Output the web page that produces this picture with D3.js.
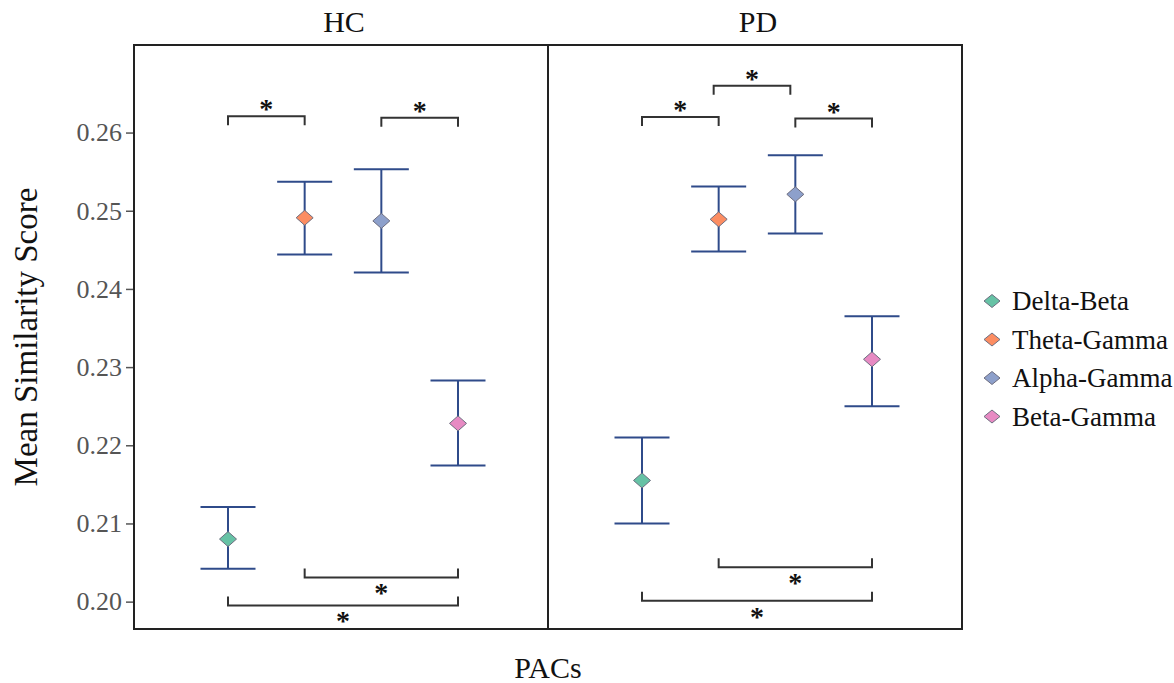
<!DOCTYPE html>
<html>
<head>
<meta charset="utf-8">
<script src="https://cdn.jsdelivr.net/npm/d3@7"></script>
<style>
  html, body { margin: 0; padding: 0; background: #fff; }
  svg { display: block; }
  text { font-family: "Liberation Serif", "Times New Roman", serif; }
</style>
</head>
<body>
<svg id="chart" width="1174" height="683"></svg>
<script>
// ---- data ----
const categories = ["Delta-Beta", "Theta-Gamma", "Alpha-Gamma", "Beta-Gamma"];
const groups = ["HC", "PD"];
const colors = ["#66c2a5", "#fc8d62", "#8da0cb", "#e78ac3"];

const hcMean  = [0.2080, 0.2491, 0.2487, 0.2228];
const hcLower = [0.2042, 0.2444, 0.2421, 0.2174];
const hcUpper = [0.2121, 0.2537, 0.2553, 0.2283];

const pdMean  = [0.2155, 0.2489, 0.2521, 0.2310];
const pdLower = [0.2100, 0.2448, 0.2471, 0.2250];
const pdUpper = [0.2210, 0.2531, 0.2571, 0.2365];

const yTicks = [0.20, 0.21, 0.22, 0.23, 0.24, 0.25, 0.26];
const yTickLabels = ["0.20", "0.21", "0.22", "0.23", "0.24", "0.25", "0.26"];

// significance brackets: [from, to, level, side]
const hcBrackets = [
  ["Delta-Beta", "Theta-Gamma", 0.2621, "top"],
  ["Alpha-Gamma", "Beta-Gamma", 0.2619, "top"],
  ["Theta-Gamma", "Beta-Gamma", 0.2031, "bottom"],
  ["Delta-Beta", "Beta-Gamma", 0.1995, "bottom"]
];
const pdBrackets = [
  ["Delta-Beta", "Theta-Gamma", 0.2620, "top"],
  ["Theta-Gamma", "Alpha-Gamma", 0.2660, "top"],
  ["Alpha-Gamma", "Beta-Gamma", 0.2618, "top"],
  ["Theta-Gamma", "Beta-Gamma", 0.2044, "bottom"],
  ["Delta-Beta", "Beta-Gamma", 0.2001, "bottom"]
];

const yTitle = "Mean Similarity Score";
const xTitle = "PACs";

// ---- layout ----
const svg = d3.select("#chart");
const plotL = 134, plotR = 962, plotT = 45, plotB = 629;
const panelW = (plotR - plotL) / 2;

const y = d3.scaleLinear().domain([0.1965, 0.2712]).range([plotB, plotT]);

const panels = [
  { name: groups[0], mean: hcMean, lower: hcLower, upper: hcUpper, brackets: hcBrackets },
  { name: groups[1], mean: pdMean, lower: pdLower, upper: pdUpper, brackets: pdBrackets }
];

const barColor = "#2f4b8a";
const capHalf = 27.5;

panels.forEach((p, i) => {
  const x0 = plotL + i * panelW;
  const x = d3.scalePoint().domain(categories).range([x0 + 2, x0 + panelW + 2]).padding(1.2);
  const g = svg.append("g");

  // panel title
  svg.append("text")
    .attr("x", x0 + panelW / 2 + 3)
    .attr("y", 32)
    .attr("text-anchor", "middle")
    .attr("font-size", 30)
    .attr("fill", "#111")
    .text(p.name);

  // error bars
  categories.forEach((c, k) => {
    const cx = x(c);
    g.append("line").attr("x1", cx).attr("x2", cx)
      .attr("y1", y(p.lower[k])).attr("y2", y(p.upper[k]))
      .attr("stroke", barColor).attr("stroke-width", 2);
    [p.lower[k], p.upper[k]].forEach(v => {
      g.append("line").attr("x1", cx - capHalf).attr("x2", cx + capHalf)
        .attr("y1", y(v)).attr("y2", y(v))
        .attr("stroke", barColor).attr("stroke-width", 2);
    });
    const cy = y(p.mean[k]);
    g.append("path")
      .attr("d", `M${cx},${cy - 7.5} L${cx + 8.5},${cy} L${cx},${cy + 7.5} L${cx - 8.5},${cy} Z`)
      .attr("fill", colors[k]).attr("stroke", "#6e6e80").attr("stroke-width", 1);
  });

  // brackets (the middle bracket between two others is drawn slightly to the left)
  p.brackets.forEach(b => {
    const nested = b[3] === "top" && b[2] > 0.264;
    const shift = nested ? -5 : 0;
    const xa = x(b[0]) + shift, xb = x(b[1]) + shift;
    const by = y(b[2]);
    const dir = b[3] === "top" ? 1 : -1;
    const tick = 9;
    g.append("path")
      .attr("d", `M${xa},${by + dir * tick} L${xa},${by} L${xb},${by} L${xb},${by + dir * tick}`)
      .attr("fill", "none").attr("stroke", "#333").attr("stroke-width", 2);
    const fs = 28;
    const centerY = b[3] === "top" ? by - 11 : by + 11.5;
    g.append("text")
      .attr("x", (xa + xb) / 2)
      .attr("y", centerY + 0.47 * fs)
      .attr("text-anchor", "middle")
      .attr("font-size", fs)
      .attr("font-weight", "bold")
      .attr("fill", "#111")
      .text("*");
  });
});

// y axis ticks
const yAxis = d3.axisLeft(y).tickValues(yTicks).tickSize(8).tickPadding(4)
  .tickFormat((d, i) => yTickLabels[i]);
const ya = svg.append("g").attr("transform", `translate(${plotL},0)`).call(yAxis);
ya.select(".domain").remove();
ya.selectAll(".tick line").attr("stroke", "#555").attr("stroke-width", 1.5);
ya.selectAll(".tick text")
  .attr("font-family", "'Liberation Serif', 'Times New Roman', serif")
  .attr("font-size", 26).attr("fill", "#555");

// frame
svg.append("rect")
  .attr("x", plotL).attr("y", plotT)
  .attr("width", plotR - plotL).attr("height", plotB - plotT)
  .attr("fill", "none").attr("stroke", "#222").attr("stroke-width", 2);
svg.append("line")
  .attr("x1", plotL + panelW).attr("x2", plotL + panelW)
  .attr("y1", plotT).attr("y2", plotB)
  .attr("stroke", "#222").attr("stroke-width", 2);

// axis titles
svg.append("text")
  .attr("transform", `translate(37, ${(plotT + plotB) / 2}) rotate(-90)`)
  .attr("text-anchor", "middle")
  .attr("font-size", 33)
  .attr("fill", "#111")
  .text(yTitle);

svg.append("text")
  .attr("x", 548).attr("y", 678)
  .attr("text-anchor", "middle")
  .attr("font-size", 30)
  .attr("fill", "#111")
  .text(xTitle);

// legend
const leg = svg.append("g");
categories.forEach((c, k) => {
  const ly = 301 + k * 38.5;
  leg.append("path")
    .attr("d", `M992,${ly - 6.5} L${992 + 8},${ly} L992,${ly + 6.5} L${992 - 8},${ly} Z`)
    .attr("fill", colors[k]).attr("stroke", "#6e6e80").attr("stroke-width", 1);
  leg.append("text")
    .attr("x", 1012).attr("y", ly + 9)
    .attr("font-size", 27)
    .attr("fill", "#111")
    .text(c);
});
</script>
</body>
</html>
